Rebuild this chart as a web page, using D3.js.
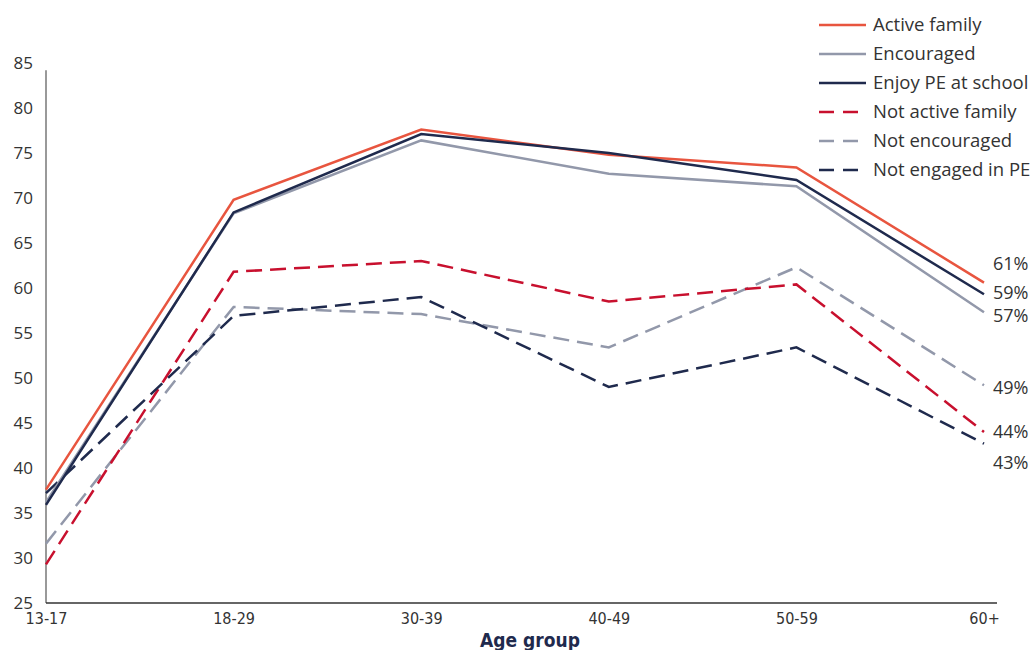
<!DOCTYPE html>
<html>
<head>
<meta charset="utf-8">
<script src="https://cdn.jsdelivr.net/npm/d3@7"></script>
<style>
  body { margin: 0; background: #fff; }
  svg { display: block; }
  .tick-y text { font-family: 'Open Sans', sans-serif; font-size: 17px; fill: #333; }
  .tick-x text { font-family: 'Liberation Sans Narrow', 'DejaVu Sans Condensed', sans-serif; font-size: 16px; fill: #333; }
</style>
</head>
<body>
<div id="chart"></div>
<script>
const ageGroups = ['13-17', '18-29', '30-39', '40-49', '50-59', '60+'];
const yTicks = [25, 30, 35, 40, 45, 50, 55, 60, 65, 70, 75, 80, 85];

const activeFamily = [37.6, 69.8, 77.6, 74.8, 73.4, 60.6];
const encouraged = [36.2, 68.3, 76.4, 72.7, 71.3, 57.3];
const enjoyPE = [35.9, 68.4, 77.1, 75.0, 72.0, 59.3];
const notActiveFamily = [29.3, 61.8, 63.0, 58.5, 60.4, 44.0];
const notEncouraged = [31.6, 57.9, 57.1, 53.4, 62.3, 49.2];
const notEngagedPE = [37.2, 56.9, 59.0, 49.0, 53.4, 42.7];

const endLabels = ['61%', '59%', '57%', '49%', '44%', '43%'];
const endLabelNudge = [-19, -2, 3, 2, 0, 19];

const series = [
  { name: 'Active family', values: activeFamily, color: '#e8553f', dash: null },
  { name: 'Encouraged', values: encouraged, color: '#9298aa', dash: null },
  { name: 'Enjoy PE at school', values: enjoyPE, color: '#1f2a4d', dash: null },
  { name: 'Not active family', values: notActiveFamily, color: '#c8102e', dash: '16,8' },
  { name: 'Not encouraged', values: notEncouraged, color: '#9298aa', dash: '16,8' },
  { name: 'Not engaged in PE', values: notEngagedPE, color: '#1f2a4d', dash: '16,8' },
];
// draw order in the picture: dashed below, solid on top
const drawOrder = [4, 3, 5, 1, 0, 2];
const labelOrder = [0, 2, 1, 4, 3, 5];

const width = 1032, height = 650;
const svg = d3.select('#chart').append('svg').attr('width', width).attr('height', height);

const x = d3.scalePoint().domain(ageGroups).range([46, 984]);
const y = d3.scaleLinear().domain([25, 85]).range([603, 63]);

// y axis
const gy = svg.append('g').attr('class', 'tick-y').attr('transform', 'translate(46,0)');
gy.call(d3.axisLeft(y).tickValues(yTicks).tickSize(0).tickPadding(13));
gy.select('.domain').attr('stroke', '#777').attr('stroke-width', 1.5).attr('d', `M0,${y(84.2)}V${y(25)}`);

// x axis
const gx = svg.append('g').attr('class', 'tick-x').attr('transform', `translate(0,${y(25)})`);
gx.call(d3.axisBottom(x).tickSize(0).tickPadding(10));
gx.select('.domain').attr('stroke', '#333').attr('stroke-width', 1.5).attr('d', `M46,0H997`);

svg.append('text')
  .attr('x', 530).attr('y', 647)
  .attr('text-anchor', 'middle')
  .style('font-family', "'Liberation Sans Narrow', 'DejaVu Sans Condensed', sans-serif")
  .style('font-weight', 'bold').style('font-size', '19px')
  .attr('fill', '#1f2a4d')
  .text('Age group');

const line = d3.line().x((d, i) => x(ageGroups[i])).y((d) => y(d));

drawOrder.forEach((k) => {
  const s = series[k];
  svg.append('path')
    .datum(s.values)
    .attr('d', line)
    .attr('fill', 'none')
    .attr('stroke', s.color)
    .attr('stroke-width', 2.5)
    .attr('stroke-dasharray', s.dash);
});

// end-of-line labels
labelOrder.forEach((k, j) => {
  const s = series[k];
  svg.append('text')
    .attr('x', 993)
    .attr('y', y(s.values[s.values.length - 1]) + endLabelNudge[j])
    .attr('dy', '0.35em')
    .style('font-family', "'Open Sans', sans-serif").style('font-size', '18px')
    .attr('fill', '#333')
    .text(endLabels[j]);
});

// legend
const legend = svg.append('g');
series.forEach((s, i) => {
  const ly = 25 + i * 29;
  legend.append('line')
    .attr('x1', 819).attr('x2', 866).attr('y1', ly).attr('y2', ly)
    .attr('stroke', s.color).attr('stroke-width', 2.5)
    .attr('stroke-dasharray', s.dash ? '15,9' : null);
  legend.append('text')
    .attr('x', 873).attr('y', ly).attr('dy', '0.35em')
    .style('font-family', "'Open Sans', sans-serif").style('font-size', '18.5px')
    .attr('fill', '#333')
    .text(s.name);
});
</script>
</body>
</html>
